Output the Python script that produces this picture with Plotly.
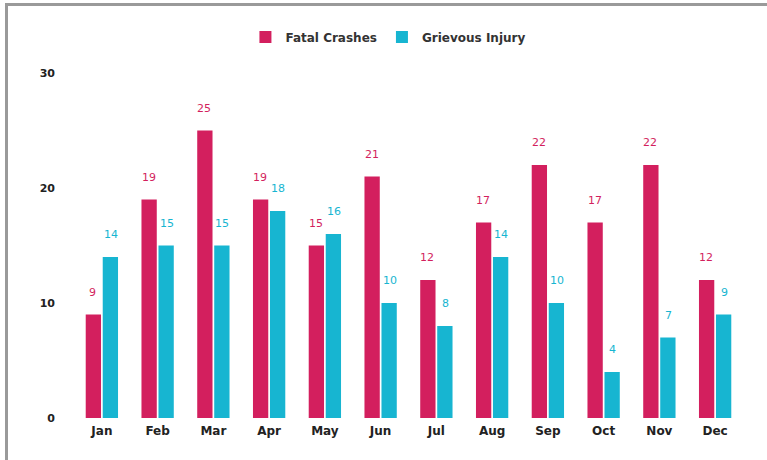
import plotly.graph_objects as go

months = ["Jan", "Feb", "Mar", "Apr", "May", "Jun", "Jul", "Aug", "Sep", "Oct", "Nov", "Dec"]
fatal_crashes = [9, 19, 25, 19, 15, 21, 12, 17, 22, 17, 22, 12]
grievous_injury = [14, 15, 15, 18, 16, 10, 8, 14, 10, 4, 7, 9]
y_ticks = [0, 10, 20, 30]

PINK = "#D31F5E"
CYAN = "#17B5D1"
FONT = "DejaVu Sans"

fig = go.Figure()
fig.add_trace(go.Bar(x=months, y=fatal_crashes, name="Fatal Crashes",
                     marker=dict(color=PINK, line=dict(width=0))))
fig.add_trace(go.Bar(x=months, y=grievous_injury, name="Grievous Injury",
                     marker=dict(color=CYAN, line=dict(width=0))))

annotations = []
for m, v in zip(months, fatal_crashes):
    annotations.append(dict(x=m, y=v, text=str(v), showarrow=False, xanchor="center",
                            yanchor="bottom", xshift=-9, yshift=14,
                            font=dict(family=FONT, size=11, color=PINK)))
for m, v in zip(months, grievous_injury):
    annotations.append(dict(x=m, y=v, text=str(v), showarrow=False, xanchor="center",
                            yanchor="bottom", xshift=9, yshift=14,
                            font=dict(family=FONT, size=11, color=CYAN)))

W, H = 767, 460
ml, mr, mt, mb = 74, 24, 73, 42
pw, ph = W - ml - mr, H - mt - mb

def px_x(p):
    return (p - ml) / pw

def px_y(p):
    return (H - mb - p) / ph

shapes = [
    dict(type="rect", xref="paper", yref="paper", x0=px_x(6.5), x1=px_x(800),
         y0=px_y(4.5), y1=px_y(500), line=dict(color="#9a9a9a", width=3),
         fillcolor="rgba(0,0,0,0)", layer="above"),
]

fig.update_layout(
    width=W, height=H,
    margin=dict(l=ml, r=mr, t=mt, b=mb),
    paper_bgcolor="white", plot_bgcolor="white",
    barmode="group", bargap=0.39, bargroupgap=0.1,
    showlegend=True,
    legend=dict(orientation="h", x=0.47, xanchor="center", y=px_y(37), yanchor="middle",
                font=dict(family=FONT, size=12, color="#333333", weight="bold"),
                itemwidth=30, traceorder="normal"),
    xaxis=dict(showgrid=False, showline=False, zeroline=False, ticks="",
               tickfont=dict(family=FONT, size=12, color="#222222", weight="bold"),
               ticklabelstandoff=4),
    yaxis=dict(range=[0, 30], tickvals=y_ticks, showgrid=False, showline=False,
               zeroline=False, ticks="",
               tickfont=dict(family=FONT, size=11, color="#222222", weight="bold"),
               ticklabelstandoff=18),
    annotations=annotations,
    shapes=shapes,
)

fig.write_html("out.html", config={"displayModeBar": False},
               post_script="document.body.style.margin='0';")
